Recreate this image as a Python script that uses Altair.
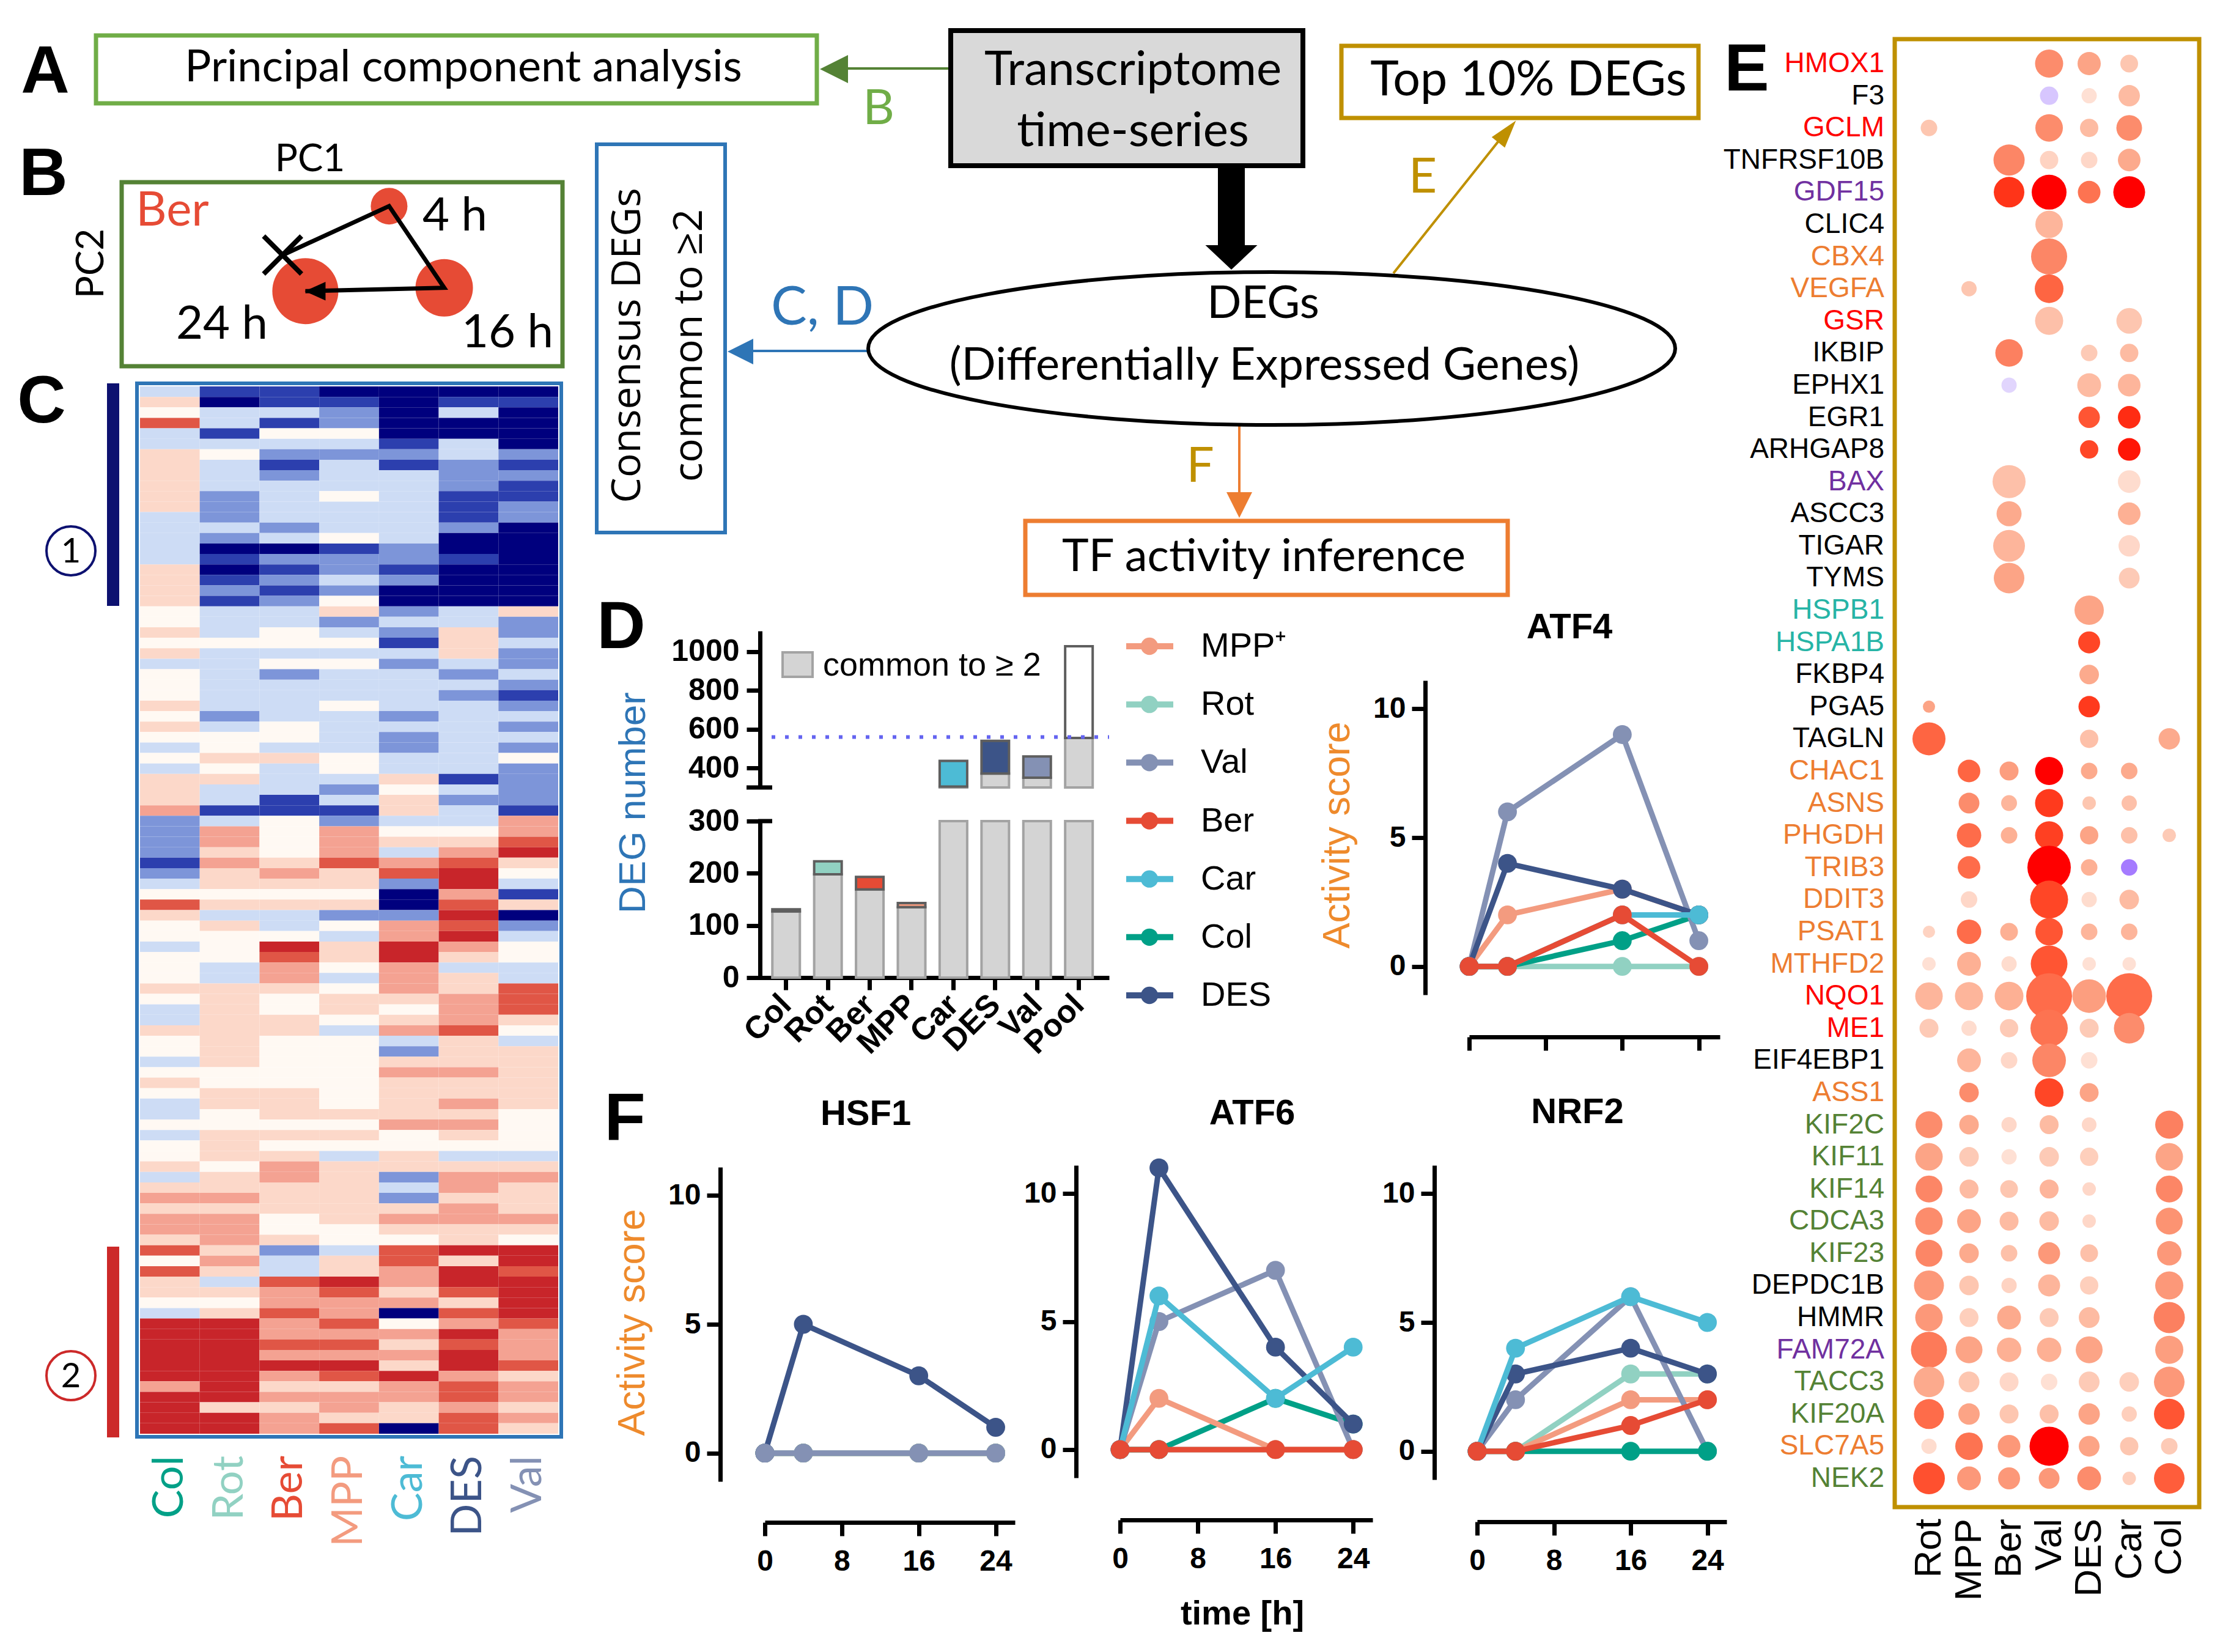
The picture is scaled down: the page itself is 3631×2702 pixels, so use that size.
import altair as alt
import pandas as pd

OFF = 8
W, H = 3615, 2686
ARIAL = "'Liberation Sans', Arial, Helvetica, sans-serif"
CALI = "Lato, 'Open Sans', sans-serif"
OPEN = "'Open Sans', 'DejaVu Sans', sans-serif"

# ============================ DATA ============================
cond_names = ['MPP', 'Rot', 'Val', 'Ber', 'Car', 'Col', 'DES']
cond_hex = ['#F39B7F', '#91D1C2', '#8491B4', '#E64B35', '#4DBBD5', '#00A087', '#3C5488']

# B: PCA trajectory (Ber)
pca_time = ['0 h', '4 h', '16 h', '24 h']
pca_pc1 = [-0.81, 0.64, 1.39, -0.50]
pca_pc2 = [0.52, 1.85, -0.37, -0.46]
pca_spread = [0, 30, 47, 54]

# C: heatmap (row-band levels, N=-4 ... R=+4)
heat_conds = ['Col', 'Rot', 'Ber', 'MPP', 'Car', 'DES', 'Val']
heat_codes = {
    'Col': ["lpwrllpppp", "pplllllppp", "pwwpwplwww", "pwpwlwlppp", "sbbbbBblwr",
            "pwwlwwwpwl", "lpwwlwpwll", "wlwwplpsps", "sprwrppwlR", "RRRRRsRRRR"],
    'Rot': ["BNllBlwlll", "bbblbNBNBb", "Blllwlllll", "lblwwpwpll", "Blsspsppwp",
            "lpwwwllppp", "pppppwwppw", "wpppwppsps", "sspsplpwpR", "RRRRRRRpRR"],
    'Ber': ["BBlBwlbBbl", "lllblNbBbB", "bllwwlwbll", "llwwlplllB", "Bwwwwpspwp",
            "llwRrsspww", "ppwwwwwppp", "wpwpsspppw", "wpbllrssrs", "srsRspspss"],
    'MPP': ["NBbbwlblll", "wlllwBbblb", "wpblwlwlll", "wllllwwlbl", "Bbsssrppwp",
            "bwlppwlwpp", "wlwwwwwwwp", "wpwlpppppp", "wwlppRrssr", "srsRrpsspr"],
    'Car': ["NNNNNBbBll", "lllllbbBbN", "NblbBlblll", "lblbbllpwp", "plwplsrbNN",
            "bssRRssspw", "pslbpspppp", "swwppblbps", "pwrrsspsNw", "spspRssppN"],
    'DES': ["NBlNNllbbb", "BBBbNNBNNN", "Nllppplblb", "lllllllBlb", "llwpsrRRsr",
            "RrRsplppss", "srpppsppsp", "spwlpsspss", "ppRpRRrprs", "RrRRsrrsrr"],
    'Val': ["NBNNNNbBbB", "BbbNNNNNNN", "NpbblbblbB", "blblbwbbbb", "BssrRpwlBp",
            "Nblwwllrrr", "pwlppppppw", "wwwlpsppps", "pwRRrRRRRr", "sssrpsspsp"],
}
heat_level = {'N': -4, 'B': -3, 'b': -2, 'l': -1, 'w': 0, 'p': 1, 's': 2, 'r': 3, 'R': 4}

# D: DEG numbers
d_conds = ['Col', 'Rot', 'Ber', 'MPP', 'Car', 'DES', 'Val', 'Pool']
d_common = [127, 198, 169, 135, 305, 372, 350, 555]
d_total = [131, 223, 193, 143, 437, 540, 460, 1027]
d_threshold = 560

# D/F: TF activity scores
tf_times = [0, 4, 16, 24]
tf_scores = {
    'ATF4': {'MPP': [0, 2, 3, 2], 'Rot': [0, 0, 0, 0], 'Val': [0, 6, 9, 1], 'Ber': [0, 0, 2, 0],
             'Car': [0, 0, 2, 2], 'Col': [0, 0, 1, 2], 'DES': [0, 4, 3, 2]},
    'HSF1': {'MPP': [0, 0, 0, 0], 'Rot': [0, 0, 0, 0], 'Val': [0, 0, 0, 0], 'Ber': [0, 0, 0, 0],
             'Car': [0, 0, 0, 0], 'Col': [0, 0, 0, 0], 'DES': [0, 5, 3, 1]},
    'ATF6': {'MPP': [0, 2, 0, 0], 'Rot': [0, 0, 0, 0], 'Val': [0, 5, 7, 0], 'Ber': [0, 0, 0, 0],
             'Car': [0, 6, 2, 4], 'Col': [0, 0, 2, 1], 'DES': [0, 11, 4, 1]},
    'NRF2': {'MPP': [0, 0, 2, 2], 'Rot': [0, 0, 3, 3], 'Val': [0, 2, 6, 0], 'Ber': [0, 0, 1, 2],
             'Car': [0, 4, 6, 5], 'Col': [0, 0, 0, 0], 'DES': [0, 3, 4, 3]},
}
legend_labels = ['MPP\u207a', 'Rot', 'Val', 'Ber', 'Car', 'Col', 'DES']

# E: top DEGs dot plot
e_conds = ['Rot', 'MPP', 'Ber', 'Val', 'DES', 'Car', 'Col']
e_genes = ['HMOX1', 'F3', 'GCLM', 'TNFRSF10B', 'GDF15', 'CLIC4', 'CBX4', 'VEGFA', 'GSR', 'IKBIP',
           'EPHX1', 'EGR1', 'ARHGAP8', 'BAX', 'ASCC3', 'TIGAR', 'TYMS', 'HSPB1', 'HSPA1B', 'FKBP4',
           'PGA5', 'TAGLN', 'CHAC1', 'ASNS', 'PHGDH', 'TRIB3', 'DDIT3', 'PSAT1', 'MTHFD2', 'NQO1',
           'ME1', 'EIF4EBP1', 'ASS1', 'KIF2C', 'KIF11', 'KIF14', 'CDCA3', 'KIF23', 'DEPDC1B', 'HMMR',
           'FAM72A', 'TACC3', 'KIF20A', 'SLC7A5', 'NEK2']
e_gene_class = ['NRF2', 'other', 'NRF2', 'other', 'p53', 'other', 'ATF4', 'ATF4', 'NRF2', 'other',
                'other', 'other', 'other', 'p53', 'other', 'other', 'other', 'HSF1', 'HSF1', 'other',
                'other', 'other', 'ATF4', 'ATF4', 'ATF4', 'ATF4', 'ATF4', 'ATF4', 'ATF4', 'NRF2',
                'NRF2', 'other', 'ATF4', 'cycle', 'cycle', 'cycle', 'cycle', 'cycle', 'other', 'other',
                'p53', 'cycle', 'cycle', 'ATF4', 'cycle']
e_sig = [
    [0, 0, 0, 46, 38, 29, 0], [0, 0, 0, 30, 25, 35, 0], [27, 0, 0, 45, 30, 42, 0],
    [0, 0, 51, 30, 27, 37, 0], [0, 0, 50, 57, 37, 52, 0], [0, 0, 0, 45, 0, 0, 0],
    [0, 0, 0, 59, 0, 0, 0], [0, 25, 0, 47, 0, 0, 0], [0, 0, 0, 46, 0, 42, 0],
    [0, 0, 45, 0, 27, 30, 0], [0, 0, 25, 0, 39, 37, 0], [0, 0, 0, 0, 35, 37, 0],
    [0, 0, 0, 0, 30, 37, 0], [0, 0, 54, 0, 0, 37, 0], [0, 0, 41, 0, 0, 37, 0],
    [0, 0, 52, 0, 0, 35, 0], [0, 0, 50, 0, 0, 34, 0], [0, 0, 0, 0, 48, 0, 0],
    [0, 0, 0, 0, 36, 0, 0], [0, 0, 0, 0, 32, 0, 0], [20, 0, 0, 0, 35, 0, 0],
    [54, 0, 0, 0, 30, 0, 35], [0, 37, 31, 46, 27, 27, 0], [0, 34, 26, 46, 22, 25, 0],
    [0, 40, 27, 46, 30, 27, 22], [0, 37, 0, 71, 27, 27, 0], [0, 27, 0, 62, 25, 32, 0],
    [20, 40, 29, 45, 27, 27, 0], [22, 39, 25, 60, 22, 22, 0], [45, 46, 47, 75, 55, 75, 0],
    [31, 25, 30, 61, 31, 50, 0], [0, 39, 27, 55, 27, 0, 0], [0, 32, 0, 47, 31, 0, 0],
    [44, 32, 25, 31, 24, 0, 46], [45, 32, 25, 32, 30, 0, 45], [44, 31, 29, 31, 22, 0, 44],
    [45, 39, 31, 32, 22, 0, 44], [44, 32, 27, 36, 29, 0, 40], [49, 32, 25, 36, 30, 0, 46],
    [45, 31, 39, 31, 34, 0, 51], [59, 44, 40, 40, 44, 0, 46], [50, 34, 31, 27, 34, 32, 50],
    [49, 35, 31, 31, 35, 25, 50], [25, 45, 37, 64, 34, 30, 27], [52, 39, 36, 34, 39, 22, 50],
]
e_fc = [
    [0, 0, 0, 2.2, 1.8, 1.2, 0], [0, 0, 0, -0.6, 0.6, 1.4, 0], [1.2, 0, 0, 2.2, 1.4, 2.2, 0],
    [0, 0, 2.3, 0.9, 0.8, 1.7, 0], [0, 0, 3.6, 4.0, 2.6, 4.0, 0], [0, 0, 0, 1.5, 0, 0, 0],
    [0, 0, 0, 2.3, 0, 0, 0], [0, 1.2, 0, 2.8, 0, 0, 0], [0, 0, 0, 1.3, 0, 1.2, 0],
    [0, 0, 2.4, 0, 1.1, 1.4, 0], [0, 0, -0.4, 0, 1.4, 1.5, 0], [0, 0, 0, 0, 3.0, 3.7, 0],
    [0, 0, 0, 0, 3.3, 3.9, 0], [0, 0, 1.3, 0, 0, 0.7, 0], [0, 0, 1.7, 0, 0, 1.6, 0],
    [0, 0, 1.5, 0, 0, 0.8, 0], [0, 0, 1.8, 0, 0, 1.1, 0], [0, 0, 0, 0, 1.8, 0, 0],
    [0, 0, 0, 0, 3.3, 0, 0], [0, 0, 0, 0, 1.7, 0, 0], [1.8, 0, 0, 0, 3.5, 0, 0],
    [2.8, 0, 0, 0, 1.3, 0, 1.7], [0, 2.8, 1.9, 4.0, 1.7, 1.7, 0], [0, 2.2, 1.5, 3.5, 1.2, 1.3, 0],
    [0, 2.7, 1.6, 3.4, 1.8, 1.3, 1.1], [0, 2.7, 0, 4.0, 1.6, -1.6, 0], [0, 0.8, 0, 3.3, 0.7, 1.4, 0],
    [0.9, 2.7, 1.6, 3.0, 1.5, 1.5, 0], [0.6, 1.6, 0.7, 3.0, 0.6, 0.6, 0], [1.5, 1.5, 1.6, 2.7, 1.9, 2.7, 0],
    [1.1, 0.7, 1.1, 2.6, 1.1, 2.2, 0], [0, 1.5, 0.8, 2.3, 0.6, 0, 0], [0, 2.2, 0, 3.3, 1.8, 0, 0],
    [2.2, 1.7, 0.8, 1.4, 0.8, 0, 2.4], [1.8, 1.1, 0.6, 1.1, 1.0, 0, 1.8], [2.3, 1.4, 1.2, 1.5, 0.8, 0, 2.3],
    [2.2, 1.8, 1.4, 1.4, 0.8, 0, 2.1], [2.3, 1.7, 1.3, 2.0, 1.3, 0, 2.0], [2.0, 1.2, 0.9, 1.5, 1.0, 0, 2.0],
    [2.0, 1.0, 1.7, 1.1, 1.4, 0, 2.4], [2.5, 1.8, 1.6, 1.6, 1.8, 0, 1.9], [1.7, 1.2, 0.8, 0.6, 1.1, 1.0, 2.0],
    [2.7, 1.8, 1.2, 1.3, 1.8, 1.0, 3.0], [0.7, 2.6, 2.0, 4.0, 1.8, 1.2, 1.1], [3.1, 2.0, 2.0, 2.0, 2.2, 1.0, 2.9],
]

# ============================ HELPERS ============================
def px(v):
    return v - OFF

one = pd.DataFrame({'k': [0]})
L = []

def rect(x1, y1, x2, y2, stroke='black', sw=0, fill='white', fo=1.0):
    L.append(alt.Chart(one).mark_rect(fill=fill, fillOpacity=fo, stroke=stroke, strokeWidth=sw).encode(
        x=alt.value(px(x1)), x2=alt.value(px(x2)), y=alt.value(px(y1)), y2=alt.value(px(y2))))

def rule(x1, y1, x2, y2, color, sw, dash=None):
    kw = dict(color=color, strokeWidth=sw)
    if dash:
        kw['strokeDash'] = dash
    L.append(alt.Chart(one).mark_rule(**kw).encode(
        x=alt.value(px(x1)), x2=alt.value(px(x2)), y=alt.value(px(y1)), y2=alt.value(px(y2))))

def sym(x, y, shape, size, fill='black', stroke=None, sw=0, angle=0, filled=True):
    kw = dict(shape=shape, size=size, filled=filled, opacity=1, angle=angle)
    if filled:
        kw['fill'] = fill
        kw['color'] = fill
    if stroke:
        kw['stroke'] = stroke
        kw['strokeWidth'] = sw
        if not filled:
            kw['color'] = stroke
    L.append(alt.Chart(one).mark_point(**kw).encode(x=alt.value(px(x)), y=alt.value(px(y))))

def txt(x, y, s, size, font=ARIAL, color='black', weight='normal', angle=0, align='center', baseline='alphabetic'):
    L.append(alt.Chart(one).mark_text(text=s, font=font, fontSize=size, color=color, fontWeight=weight,
                                      angle=angle, align=align, baseline=baseline).encode(
        x=alt.value(px(x)), y=alt.value(px(y))))

def axis(orient, offset, values=None, labels=True, fs=48, **extra):
    kw = dict(orient=orient, offset=offset, labels=labels, title=None, grid=False,
              domain=True, domainColor='black', domainWidth=7, ticks=True, tickColor='black',
              tickWidth=7, tickSize=22, labelFont=ARIAL, labelFontWeight='bold', labelFontSize=fs,
              labelColor='black', labelPadding=10, labelOverlap=False, labelFlush=False)
    if values is not None:
        kw['values'] = values
    kw.update(extra)
    return alt.Axis(**kw)

LEFT_TRI = "M -1 0 L 1 -1 L 1 1 Z"
DOWN_TRI = "M -1 -1 L 1 -1 L 0 1 Z"
UP_TRI = "M 0 -1 L 0.6 1 L -0.6 1 Z"

# ============================ A: flow chart ============================
rect(157, 58, 1336, 169, stroke='#70AD47', sw=7)
txt(758, 133, 'Principal component analysis', 72, font=CALI)

# arrows
rule(1380, 112, 1555, 112, '#548235', 4)
sym(1364, 113, LEFT_TRI, 46 ** 2, fill='#548235')
txt(1437, 203, 'B', 80, font=CALI, color='#70AD47')

rect(1992, 268, 2036, 405, stroke='black', sw=0, fill='black')
sym(2014, 421, "M -1 -0.47 L 1 -0.47 L 0 0.47 Z", 85 ** 2, fill='black')

rule(1225, 574, 1425, 574, '#2E75B6', 4)
sym(1211, 575, LEFT_TRI, 42 ** 2, fill='#2E75B6')
txt(1345, 531, 'C, D', 88, font=CALI, color='#2E75B6')

rule(2279, 447, 2462, 217, '#BF9000', 4)
sym(2465, 215, UP_TRI, 46 ** 2, fill='#BF9000', angle=39)
txt(2327, 315, 'E', 80, font=CALI, color='#BF9000')

rule(2027, 690, 2027, 812, '#ED7D31', 4)
sym(2027, 826, DOWN_TRI, 42 ** 2, fill='#ED7D31')
txt(1963, 788, 'F', 80, font=CALI, color='#BF9000')

# Transcriptome box
rect(1555, 50, 2131, 271, stroke='black', sw=8, fill='#D9D9D9')
txt(1853, 139, 'Transcriptome', 78, font=CALI)
txt(1853, 239, 'time-series', 78, font=CALI)

# DEG ellipse (cubic Bezier ellipse path)
ry = 125 / 660.0
k = 0.5523
ell = ("M -1 0 C -1 {a} -{k} {b} 0 {b} C {k} {b} 1 {a} 1 0 C 1 {c} {k} {d} 0 {d} "
       "C -{k} {d} -1 {c} -1 0 Z").format(a=-k * ry, b=-ry, c=k * ry, d=ry, k=k)
sym(2080, 570, ell, 1320 ** 2, fill='white', stroke='black', sw=6)
txt(2066, 520, 'DEGs', 74, font=CALI)
txt(2068, 621, '(Differentially Expressed Genes)', 74, font=CALI)

# Top 10% box
rect(2194, 75, 2778, 193, stroke='#BF9000', sw=7)
txt(2500, 156, 'Top 10% DEGs', 79, font=CALI)

# TF activity box
rect(1677, 852, 2466, 973, stroke='#ED7D31', sw=7)
txt(2067, 934, 'TF activity inference', 74, font=CALI)

# Consensus box
rect(976, 236, 1186, 871, stroke='#2E75B6', sw=6)
txt(1027, 565, 'Consensus DEGs', 66, font=OPEN, angle=270, baseline='middle')
txt(1128, 565, 'common to \u22652', 66, font=OPEN, angle=270, baseline='middle')

# ============================ B: PCA ============================
rect(199, 298, 920, 599, stroke='#548235', sw=7)
txt(507, 280, 'PC1', 62, font=CALI)
txt(150, 431, 'PC2', 62, font=CALI, angle=270, baseline='middle')
txt(282, 369, 'Ber', 78, font=CALI, color='#E64B35')
txt(744, 377, '4 h', 76, font=CALI)
txt(830, 568, '16 h', 76, font=CALI)
txt(363, 554, '24 h', 76, font=CALI)

pca_df = pd.DataFrame({'time': pca_time, 'pc1': pca_pc1, 'pc2': pca_pc2, 'spread': pca_spread,
                       'idx': list(range(len(pca_time)))})
pc1_s = alt.Scale(domain=[-3, 3], range=[px(199), px(920)], nice=False, zero=False)
pc2_s = alt.Scale(domain=[-2.5, 2.5], range=[px(599), px(298)], nice=False, zero=False)
pbase = alt.Chart(pca_df)
L.append(pbase.transform_filter('datum.spread > 0').mark_circle(color='#E64B35', opacity=1).encode(
    x=alt.X('pc1:Q', scale=pc1_s, axis=None), y=alt.Y('pc2:Q', scale=pc2_s, axis=None),
    size=alt.Size('spread:Q', scale=alt.Scale(type='pow', exponent=2, domain=[0, 54], range=[0, 108 ** 2]),
                  legend=None)))
L.append(pbase.mark_line(color='black', strokeWidth=7).encode(
    x=alt.X('pc1:Q', scale=pc1_s, axis=None), y=alt.Y('pc2:Q', scale=pc2_s, axis=None), order='idx:Q'))
L.append(pbase.transform_filter("datum.time == '24 h'").mark_point(
    shape="M -1 0 L 1 -0.9 L 1 0.9 Z", size=34 ** 2, filled=True, color='black', opacity=1, xOffset=16).encode(
    x=alt.X('pc1:Q', scale=pc1_s, axis=None), y=alt.Y('pc2:Q', scale=pc2_s, axis=None)))
L.append(pbase.transform_filter("datum.time == '0 h'").mark_point(
    shape="M -1 -1 L 1 1 M -1 1 L 1 -1", size=62 ** 2, filled=False, color='black', strokeWidth=8, opacity=1).encode(
    x=alt.X('pc1:Q', scale=pc1_s, axis=None), y=alt.Y('pc2:Q', scale=pc2_s, axis=None)))

# ============================ C: heatmap ============================
heat_rows = []
for c in heat_conds:
    seq = ''.join(heat_codes[c])
    for i, ch in enumerate(seq):
        heat_rows.append({'cond': c, 'row': i, 'row2': i + 1, 'z': heat_level[ch]})
heat_df = pd.DataFrame(heat_rows)
nrow = len(''.join(heat_codes['Col']))
heat_x = alt.Scale(domain=heat_conds, range=[px(229), px(913)], paddingInner=0, paddingOuter=0)
HEAT_COLORS = ['#00007E', '#2c3fae', '#7d95d9', '#cddcf5', '#fff9f3', '#fcd8c9', '#f4a292', '#e05646', '#c8252a']
L.append(alt.Chart(heat_df).mark_rect(strokeWidth=0).encode(
    x=alt.X('cond:N', scale=heat_x, axis=None),
    y=alt.Y('row:Q', scale=alt.Scale(domain=[0, nrow], range=[px(632), px(2345)], nice=False, zero=False), axis=None),
    y2='row2:Q',
    color=alt.Color('z:Q', scale=alt.Scale(domain=[-4, -3, -2, -1, 0, 1, 2, 3, 4], range=HEAT_COLORS), legend=None)))
rect(224, 627, 918, 2350, stroke='#2E75B6', sw=6, fill='white', fo=0)
L.append(alt.Chart(pd.DataFrame({'cond': heat_conds})).mark_text(
    angle=270, align='right', baseline='middle', font=CALI, fontSize=70).encode(
    x=alt.X('cond:N', scale=heat_x, axis=None), y=alt.value(px(2381)), text='cond:N',
    color=alt.Color('cond:N', scale=alt.Scale(domain=cond_names, range=cond_hex), legend=None)))
rect(175, 627, 195, 991, stroke='#0D1170', sw=0, fill='#0D1170')
rect(175, 2039, 195, 2351, stroke='#CC2929', sw=0, fill='#CC2929')
sym(116, 901, 'circle', 80 ** 2, stroke='#0D1170', sw=4, filled=False)
sym(116, 2250, 'circle', 80 ** 2, stroke='#CC2929', sw=4, filled=False)
txt(116, 903, '1', 56, font=CALI, baseline='middle')
txt(116, 2252, '2', 56, font=CALI, baseline='middle')

# ============================ D: DEG bars ============================
deg_df = pd.DataFrame({'cond': d_conds, 'common': d_common, 'total': d_total})
d_x = alt.Scale(domain=d_conds, range=[px(1223), px(1814)], paddingInner=0.342, paddingOuter=0.49, align=0.6)
d_low = alt.Scale(domain=[0, 300], range=[px(1599), px(1343)], nice=False, zero=False, clamp=True)
d_up = alt.Scale(domain=[300, 1106], range=[px(1288), px(1032)], nice=False, zero=False, clamp=True)
d_fill = alt.Scale(domain=d_conds, range=['#00A087', '#91D1C2', '#E64B35', '#F39B7F', '#4DBBD5', '#3C5488', '#8491B4', '#FFFFFF'])
dbase = alt.Chart(deg_df)
L.append(dbase.transform_calculate(zero='0').mark_bar(fill='#D4D4D4', stroke='#A3A3A3', strokeWidth=4, opacity=1).encode(
    x=alt.X('cond:N', scale=d_x, axis=axis('bottom', px(1599) - H, fs=52, labelAngle=-45, labelAlign='right',
                                            labelBaseline='middle', labelPadding=16, tickSize=20)),
    y=alt.Y('common:Q', scale=d_low, axis=axis('left', -px(1243), values=[0, 100, 200, 300], fs=50,
                                                labelPadding=12, format='d')),
    y2='zero:Q'))
L.append(dbase.transform_filter('datum.common < 300').mark_bar(stroke='#5E5E5E', strokeWidth=4, opacity=1).encode(
    x=alt.X('cond:N', scale=d_x, axis=None),
    y=alt.Y('total:Q', scale=d_low, axis=None), y2='common:Q',
    color=alt.Color('cond:N', scale=d_fill, legend=None)))
L.append(dbase.transform_filter('datum.common > 300').transform_calculate(b300='300').mark_bar(
    fill='#D4D4D4', stroke='#A3A3A3', strokeWidth=4, opacity=1).encode(
    x=alt.X('cond:N', scale=d_x, axis=None),
    y=alt.Y('common:Q', scale=d_up, axis=axis('left', -px(1243), values=[400, 600, 800, 1000], fs=50,
                                               labelPadding=12, format='d')),
    y2='b300:Q'))
L.append(dbase.transform_filter('datum.total > 300').transform_calculate(lo='max(datum.common, 300)').mark_bar(
    stroke='#5E5E5E', strokeWidth=4, opacity=1).encode(
    x=alt.X('cond:N', scale=d_x, axis=None),
    y=alt.Y('total:Q', scale=d_up, axis=None), y2='lo:Q',
    color=alt.Color('cond:N', scale=d_fill, legend=None)))
L.append(alt.Chart(pd.DataFrame({'thr': [d_threshold]})).mark_rule(color='#6464F0', strokeWidth=6, strokeDash=[6, 16]).encode(
    y=alt.Y('thr:Q', scale=d_up, axis=None), x=alt.value(px(1262)), x2=alt.value(px(1814))))
rule(1221, 1288, 1263, 1288, 'black', 7)
rule(1240, 1343, 1263, 1343, 'black', 7)
rect(1280, 1067, 1329, 1107, stroke='#A3A3A3', sw=4, fill='#D4D4D4')
txt(1346, 1089, 'common to \u2265 2', 54, align='left', baseline='middle')
txt(1036, 1313, 'DEG number', 62, color='#2E75B6', angle=270, baseline='middle')

# ============================ legend ============================
leg_df = pd.DataFrame({'label': legend_labels, 'cond': cond_names})
leg_y = alt.Scale(type='point', domain=legend_labels, range=[px(1057), px(1628)], padding=0)
leg_c = alt.Scale(domain=cond_names, range=cond_hex)
L.append(alt.Chart(leg_df).mark_rule(strokeWidth=10).encode(
    y=alt.Y('label:N', scale=leg_y, axis=None), x=alt.value(px(1842)), x2=alt.value(px(1919)),
    color=alt.Color('cond:N', scale=leg_c, legend=None)))
L.append(alt.Chart(leg_df).mark_point(filled=True, size=800, opacity=1).encode(
    y=alt.Y('label:N', scale=leg_y, axis=None), x=alt.value(px(1880)),
    color=alt.Color('cond:N', scale=leg_c, legend=None)))
L.append(alt.Chart(leg_df).mark_text(align='left', baseline='middle', font=ARIAL, fontSize=56, color='black').encode(
    y=alt.Y('label:N', scale=leg_y, axis=None), x=alt.value(px(1964)), text='label:N'))

# ============================ ATF4 + F line panels ============================
panels = {
    'ATF4': dict(x0=2403, x1=2813, xmax=26.2, ybot=1627, ytop=1113, yax=2331, xax=1696, labels=False,
                 order=['Rot', 'Col', 'MPP', 'Val', 'DES', 'Car', 'Ber'], title=(2567, 1027)),
    'HSF1': dict(x0=1251, x1=1660, xmax=26.0, ybot=2423, ytop=1909, yax=1178, xax=2490, labels=True,
                 order=['Ber', 'Car', 'Col', 'MPP', 'Rot', 'DES', 'Val'], title=(1416, 1823)),
    'ATF6': dict(x0=1832, x1=2245, xmax=26.0, ybot=2417, ytop=1906, yax=1760, xax=2486, labels=True,
                 order=['Rot', 'Col', 'MPP', 'Val', 'DES', 'Car', 'Ber'], title=(2048, 1822)),
    'NRF2': dict(x0=2416, x1=2824, xmax=26.0, ybot=2420, ytop=1906, yax=2346, xax=2489, labels=True,
                 order=['Rot', 'MPP', 'Val', 'Col', 'DES', 'Car', 'Ber'], title=(2580, 1820)),
}
chex = dict(zip(cond_names, cond_hex))
for tf, p in panels.items():
    xs = alt.Scale(domain=[0, p['xmax']], range=[px(p['x0']), px(p['x1'])], nice=False, zero=False)
    ys = alt.Scale(domain=[-1.1, 11.1], range=[px(p['ybot']), px(p['ytop'])], nice=False, zero=False)
    first = True
    for c in p['order']:
        df = pd.DataFrame({'time': tf_times, 'score': tf_scores[tf][c]})
        if first:
            xa = axis('bottom', px(p['xax']) - H, values=[0, 8, 16, 24], labels=p['labels'], fs=48,
                      labelPadding=18, tickSize=22)
            ya = axis('left', -px(p['yax']), values=[0, 5, 10], fs=48, labelPadding=10)
            first = False
        else:
            xa = None
            ya = None
        L.append(alt.Chart(df).mark_line(color=chex[c], strokeWidth=9, opacity=1).encode(
            x=alt.X('time:Q', scale=xs, axis=xa), y=alt.Y('score:Q', scale=ys, axis=ya)))
        L.append(alt.Chart(df).mark_point(filled=True, size=950, color=chex[c], opacity=1).encode(
            x=alt.X('time:Q', scale=xs, axis=None), y=alt.Y('score:Q', scale=ys, axis=None)))
    txt(p['title'][0], p['title'][1], tf, 58, weight='bold', baseline='middle')

txt(2188, 1366, 'Activity score', 63, color='#EE8A2C', angle=270, baseline='middle')
txt(1035, 2163, 'Activity score', 63, color='#EE8A2C', angle=270, baseline='middle')
txt(2032, 2640, 'time [h]', 56, weight='bold', baseline='middle')

# ============================ E: dot plot ============================
e_rows = []
for gi, g in enumerate(e_genes):
    for ci, c in enumerate(e_conds):
        if e_sig[gi][ci] > 0:
            e_rows.append({'gene': g, 'cond': c, 'sig': e_sig[gi][ci], 'fc': e_fc[gi][ci]})
e_df = pd.DataFrame(e_rows)
e_x = alt.Scale(type='point', domain=e_conds, range=[px(3155), px(3548)], padding=0)
e_y = alt.Scale(type='point', domain=e_genes, range=[px(104), px(2418)], padding=0)
rect(3099, 64, 3597, 2465, stroke='#BF9000', sw=7)
L.append(alt.Chart(e_df).mark_circle(opacity=1).encode(
    x=alt.X('cond:N', scale=e_x, axis=None), y=alt.Y('gene:N', scale=e_y, axis=None),
    size=alt.Size('sig:Q', scale=alt.Scale(type='pow', exponent=2, domain=[0, 75], range=[0, 75 ** 2]), legend=None),
    color=alt.Color('fc:Q', scale=alt.Scale(
        domain=[-2, -0.3, 0, 0.6, 1.2, 1.8, 2.4, 3.0, 4.0],
        range=['#8f5cff', '#e6dcfc', '#fff3ee', '#fee0d4', '#fdc6b0', '#fca486', '#fc8060', '#ff5533', '#ff0000']),
        legend=None)))
L.append(alt.Chart(pd.DataFrame({'gene': e_genes, 'cls': e_gene_class})).mark_text(
    align='right', baseline='middle', font=ARIAL, fontSize=46).encode(
    y=alt.Y('gene:N', scale=e_y, axis=None), x=alt.value(px(3082)), text='gene:N',
    color=alt.Color('cls:N', scale=alt.Scale(domain=['NRF2', 'ATF4', 'HSF1', 'p53', 'cycle', 'other'],
                                             range=['#FF0000', '#ED7D31', '#26B4A6', '#7030A0', '#548235', '#000000']),
                    legend=None)))
L.append(alt.Chart(pd.DataFrame({'cond': e_conds})).mark_text(
    angle=270, align='right', baseline='middle', font=ARIAL, fontSize=62, color='black').encode(
    x=alt.X('cond:N', scale=e_x, axis=None), y=alt.value(px(2484)), text='cond:N'))

# ============================ panel letters ============================
for letter, (lx, ly) in {'A': (74, 151), 'B': (71, 319), 'C': (68, 691), 'D': (1016, 1060),
                         'E': (2857, 148), 'F': (1022, 1865)}.items():
    txt(lx, ly, letter, 110, weight='bold')

chart = alt.layer(*L).properties(
    width=W, height=H, autosize=alt.AutoSizeParams(type='none'), padding=0
).resolve_scale(
    x='independent', y='independent', color='independent', size='independent', shape='independent'
).configure_view(stroke=None)

chart.save("out.html", embed_options={"renderer": "svg", "actions": False})
